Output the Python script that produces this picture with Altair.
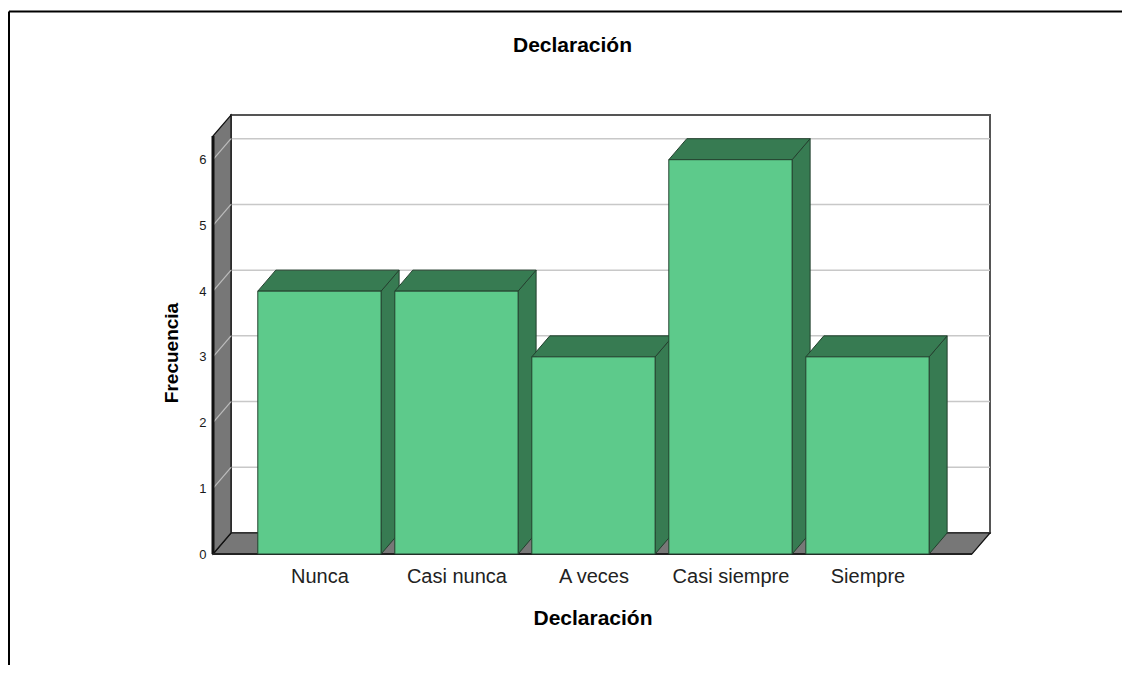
import json
import altair as alt
import pandas as pd

# ---- data ----
categories = ["Nunca", "Casi nunca", "A veces", "Casi siempre", "Siempre"]
counts = [4, 4, 3, 6, 3]
y_ticks = [0, 1, 2, 3, 4, 5, 6]
chart_title = "Declaración"
x_title = "Declaración"
y_title = "Frecuencia"

# ---- 3D box geometry (data units) ----
BAR_HALF = 0.45
DEPTH_X = 18 / 137
DEPTH_Y = 21 / 65.72
X_MIN = -0.777
X_MAX_FRONT = 4.763
X_MAX = X_MAX_FRONT + DEPTH_X
Y_TOP = 6.68
WALL_TOP = Y_TOP - DEPTH_Y

W, H = 777, 439
PAD = {"left": 205, "top": 107, "right": 132, "bottom": 111}

FONT = "Liberation Sans"
FRONT = "#5DCA8B"
DARK = "#377B52"
EDGE = "#23402E"
GRAY = "#777777"

xs = alt.Scale(domain=[X_MIN, X_MAX], nice=False, zero=False)
ys = alt.Scale(domain=[0, Y_TOP], nice=False, zero=False)


def X(field, **kw):
    return alt.X(field, type="quantitative", scale=xs, stack=False, **kw)


def Y(field, **kw):
    return alt.Y(field, type="quantitative", scale=ys, stack=False, **kw)


# ---- build face tables from the data ----
fronts = pd.DataFrame({
    "cat": categories,
    "x0": [i - BAR_HALF for i in range(len(categories))],
    "x1": [i + BAR_HALF for i in range(len(categories))],
    "y0": [0.0] * len(categories),
    "y1": [float(v) for v in counts],
})

side_rows, top_rows = [], []
for i, (c, v) in enumerate(zip(categories, counts)):
    side_rows.append({"cat": c, "x": i + BAR_HALF, "y": 0.0, "y2": float(v)})
    side_rows.append({"cat": c, "x": i + BAR_HALF + DEPTH_X, "y": DEPTH_Y, "y2": v + DEPTH_Y})
    top_rows.append({"cat": c, "y": float(v), "x": i - BAR_HALF, "x2": i + BAR_HALF})
    top_rows.append({"cat": c, "y": v + DEPTH_Y, "x": i - BAR_HALF + DEPTH_X, "x2": i + BAR_HALF + DEPTH_X})
sides = pd.DataFrame(side_rows)
tops = pd.DataFrame(top_rows)

grid_vals = [t for t in y_ticks if t > 0]
back_grid = pd.DataFrame({"x": [X_MIN + DEPTH_X] * len(grid_vals), "x2": [X_MAX] * len(grid_vals),
                          "y": [g + DEPTH_Y for g in grid_vals]})
side_grid = pd.DataFrame({"x": [X_MIN] * len(grid_vals), "x2": [X_MIN + DEPTH_X] * len(grid_vals),
                          "y": [float(g) for g in grid_vals], "y2": [g + DEPTH_Y for g in grid_vals]})
back_wall = pd.DataFrame({"x": [X_MIN + DEPTH_X], "x2": [X_MAX], "y": [DEPTH_Y], "y2": [Y_TOP]})
left_wall = pd.DataFrame({"x": [X_MIN, X_MIN + DEPTH_X], "y": [0.0, DEPTH_Y], "y2": [WALL_TOP, Y_TOP]})
floor = pd.DataFrame({"y": [0.0, DEPTH_Y], "x": [X_MIN, X_MIN + DEPTH_X], "x2": [X_MAX_FRONT, X_MAX]})
front_edge = pd.DataFrame({"x": [X_MIN], "y": [0.0], "y2": [WALL_TOP]})
floor_edge = pd.DataFrame({"x": [X_MIN], "x2": [X_MAX_FRONT], "y": [0.0]})
one = pd.DataFrame({"k": [0]})

label_expr = json.dumps(categories, ensure_ascii=False) + "[datum.value]"

x_axis = alt.Axis(values=list(range(len(categories))), labelExpr=label_expr,
                  domain=False, ticks=False, grid=False, labelFontSize=20,
                  labelPadding=12, labelColor="#222222", labelFont=FONT,
                  title=x_title, titleFont=FONT, titleFontSize=21,
                  titleFontWeight="bold", titleColor="#000000",
                  titleX=379.5, titleY=70, titleBaseline="alphabetic",
                  titleAlign="center", labelOverlap=False)
y_axis = alt.Axis(values=y_ticks, format="d", domain=False, ticks=False, grid=False,
                  labelFontSize=13, labelPadding=7, labelColor="#1a1a1a",
                  labelFont=FONT, title=y_title, titleFont=FONT,
                  titleFontSize=19, titleFontWeight="bold", titleColor="#000000",
                  titleX=-36, titleY=237.5, titleAngle=-90,
                  titleBaseline="alphabetic", titleAlign="center", labelOverlap=False)

# ---- layers ----
back = alt.Chart(back_wall).mark_rect(fill="white", stroke="#555555", strokeWidth=2).encode(
    x=X("x", axis=x_axis), x2="x2", y=Y("y", axis=y_axis), y2="y2")

bgrid = alt.Chart(back_grid).mark_rule(color="#c8c8c8", strokeWidth=1.5).encode(
    x=X("x"), x2="x2", y=Y("y"))

floor_l = alt.Chart(floor).mark_area(orient="horizontal", fill=GRAY, stroke="#111111",
                                     strokeWidth=1.2, opacity=1).encode(
    y=Y("y"), x=X("x"), x2="x2")

wall_l = alt.Chart(left_wall).mark_area(orient="vertical", fill=GRAY, stroke="#111111",
                                        strokeWidth=1.2, opacity=1).encode(
    x=X("x"), y=Y("y"), y2="y2")

sgrid = alt.Chart(side_grid).mark_rule(color="#bdbdbd", strokeWidth=1.2).encode(
    x=X("x"), x2="x2", y=Y("y"), y2="y2")

fedge = alt.Chart(front_edge).mark_rule(color="#111111", strokeWidth=3).encode(
    x=X("x"), y=Y("y"), y2="y2")

fledge = alt.Chart(floor_edge).mark_rule(color="#222222", strokeWidth=2).encode(
    x=X("x"), x2="x2", y=Y("y"))

side_l = alt.Chart(sides).mark_area(orient="vertical", fill=DARK, stroke=EDGE,
                                    strokeWidth=1, opacity=1).encode(
    x=X("x"), y=Y("y"), y2="y2", detail="cat:N")

top_l = alt.Chart(tops).mark_area(orient="horizontal", fill=DARK, stroke=EDGE,
                                  strokeWidth=1, opacity=1).encode(
    y=Y("y"), x=X("x"), x2="x2", detail="cat:N")

front_l = alt.Chart(fronts).mark_rect(fill=FRONT, stroke=EDGE, strokeWidth=1).encode(
    x=X("x0"), x2="x1", y=Y("y0"), y2="y1",
    tooltip=["cat:N", "y1:Q"],
)

title_l = alt.Chart(one).mark_text(text=chart_title, font=FONT, fontSize=21, fontWeight="bold",
                                   align="center", baseline="alphabetic", color="#000000").encode(
    x=alt.value(572.5 - 213), y=alt.value(52 - 115))

frame_top = alt.Chart(one).mark_rule(color="#000000", strokeWidth=2).encode(
    x=alt.value(-204), x2=alt.value(W + PAD["right"]), y=alt.value(-103.5))
frame_left = alt.Chart(one).mark_rule(color="#000000", strokeWidth=2).encode(
    x=alt.value(-204), y=alt.value(-103.5), y2=alt.value(H + PAD["bottom"]))

chart = alt.layer(
    back, bgrid, floor_l, wall_l, sgrid, fedge, fledge, side_l, top_l, front_l,
    title_l, frame_top, frame_left,
).properties(
    width=W, height=H,
    autosize=alt.AutoSizeParams(type="none"),
    padding=PAD,
    background="white",
).configure_view(stroke="transparent").configure_axis(grid=False, domain=False, ticks=False)

chart.save("out.html", embed_options={"renderer": "svg", "actions": False})
